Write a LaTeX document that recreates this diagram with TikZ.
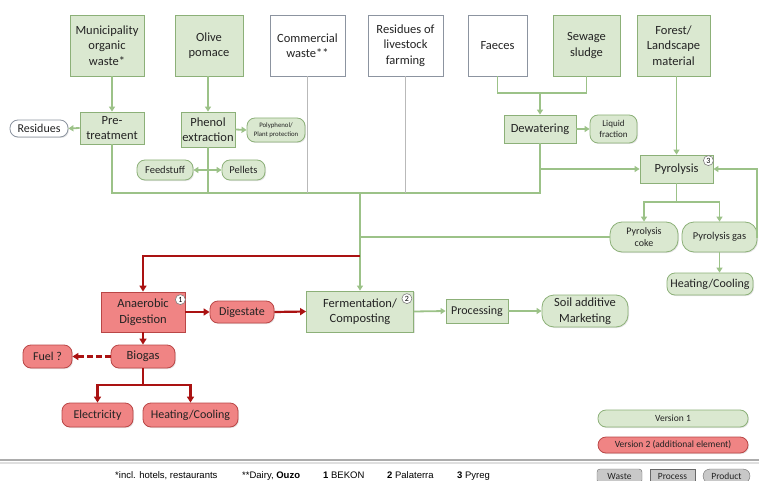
\documentclass[tikz,border=0pt]{standalone}
\usepackage{fontspec}
\setmainfont{Carlito}
\newfontfamily\arialfont{Liberation Sans}
\usepackage{tikz}
\usetikzlibrary{arrows.meta,calc,shadows}

\definecolor{grnfill}{RGB}{218,232,208}
\definecolor{grnedge}{RGB}{140,176,120}
\definecolor{grnline}{RGB}{156,194,136}
\definecolor{redfill}{RGB}{240,132,132}
\definecolor{rededge}{RGB}{185,70,70}
\definecolor{redline}{RGB}{170,18,18}
\definecolor{grayedge}{RGB}{140,148,160}
\definecolor{grayline}{RGB}{185,185,185}
\definecolor{keyfill}{RGB}{200,200,200}
\definecolor{keyedge}{RGB}{105,105,105}
\definecolor{textcol}{RGB}{35,35,35}

\newcommand{\fsz}[2]{\fontsize{#1}{#2}\selectfont}

\tikzset{
  boxbase/.style={draw, line width=0.8pt, align=center, inner sep=1pt, text=textcol,
    font=\fsz{12.5}{15.5},
    drop shadow={opacity=0.22, shadow xshift=1pt, shadow yshift=-1pt}},
  greenbox/.style={boxbase, rectangle, draw=grnedge, fill=grnfill},
  whitebox/.style={boxbase, rectangle, draw=grayedge, fill=white},
  redbox/.style={boxbase, rectangle, draw=rededge, fill=redfill},
  greenpill/.style={boxbase, rounded corners=8pt, draw=grnedge, fill=grnfill},
  whitepill/.style={boxbase, rounded corners=8pt, draw=grayedge, fill=white},
  redpill/.style={boxbase, rounded corners=8pt, draw=rededge, fill=redfill},
  gline/.style={draw=grnline, line width=1.8pt},
  garrow/.style={gline, -{Triangle[length=5pt,width=6pt]}},
  grayln/.style={draw=grayline, line width=1.6pt},
  rline/.style={draw=redline, line width=2.2pt},
  rarrow/.style={rline, -{Triangle[length=6pt,width=7pt]}},
  badge/.style={circle, draw=gray, line width=0.6pt, fill=white, inner sep=0.8pt,
    minimum size=10pt, font=\fsz{8}{8}},
  keybox/.style={draw=keyedge, fill=keyfill, minimum height=14, minimum width=45,
    inner sep=1pt, text=textcol, font=\fsz{9.5}{10}},
  foot/.style={font=\arialfont\fsz{9.5}{10}, anchor=base west, inner sep=0pt}
}

\begin{document}
\begin{tikzpicture}[x=1pt,y=-1pt]
  \clip (0,0) rectangle (759,481);

  % Sources
  \node[greenbox, minimum width=74, minimum height=61] (muni) at (107,45.5) {Municipality\\organic\\waste*};
  \node[greenbox, minimum width=68, minimum height=61] (olive) at (209,45.5) {Olive\\pomace};
  \node[whitebox, minimum width=75, minimum height=61] (comm) at (307.5,45.5) {Commercial\\waste**};
  \node[whitebox, minimum width=75, minimum height=61] (live) at (405.5,45.5) {Residues of\\livestock\\farming};
  \node[whitebox, minimum width=59, minimum height=61] (faeces) at (497.5,45.5) {Faeces};
  \node[greenbox, minimum width=67, minimum height=61] (sewage) at (586.5,45.5) {Sewage\\sludge};
  \node[greenbox, minimum width=73, minimum height=61] (forest) at (673.5,45.5) {Forest/\\Landscape\\material};

  % Pre-processing
  \node[greenbox, minimum width=64, minimum height=32] (pre) at (112,128) {Pre-\\treatment};
  \node[whitepill, minimum width=58, minimum height=17, font=\fsz{12}{13}] (resid) at (39,128.5) {Residues};
  \node[greenbox, minimum width=54, minimum height=35] (phenol) at (208,129.5) {Phenol\\extraction};
  \node[greenpill, minimum width=58, minimum height=24, font=\fsz{6.8}{8.5}] (poly) at (276,130) {Polyphenol/\\Plant protection};
  \node[greenpill, minimum width=56, minimum height=20, font=\fsz{10.5}{12}] (feed) at (165,170) {Feedstuff};
  \node[greenpill, minimum width=43, minimum height=20, font=\fsz{10.5}{12}] (pellets) at (243.5,170) {Pellets};
  \node[greenbox, minimum width=72, minimum height=28] (dewat) at (540,129) {Dewatering};
  \node[greenpill, minimum width=47, minimum height=28, font=\fsz{9}{10.5}] (liquid) at (613.5,129) {Liquid\\fraction};

  % Pyrolysis
  \node[greenbox, minimum width=73, minimum height=28] (pyro) at (676.5,169) {Pyrolysis};
  \node[badge] at ([shift={(-5,6)}]pyro.north east) {3};
  \node[greenpill, minimum width=68, minimum height=30, font=\fsz{10}{11.5}, rounded corners=12pt] (coke) at (644,237) {Pyrolysis\\coke};
  \node[greenpill, minimum width=75, minimum height=30, font=\fsz{10.5}{12}, rounded corners=12pt] (gas) at (719.5,237) {Pyrolysis gas};
  \node[greenpill, minimum width=86, minimum height=22, font=\fsz{12}{13}] (heatR) at (710,284) {Heating/Cooling};

  % Composting line
  \node[greenbox, minimum width=107, minimum height=41] (ferm) at (360,311.5) {Fermentation/\\Composting};
  \node[badge] at ([shift={(-7,8)}]ferm.north east) {2};
  \node[greenbox, minimum width=62, minimum height=24, font=\fsz{12}{13}] (proc) at (477,311) {Processing};
  \node[greenpill, minimum width=86, minimum height=32, rounded corners=12pt] (soil) at (585,311) {Soil additive\\Marketing};

  % Version 2: anaerobic digestion
  \node[redbox, minimum width=84, minimum height=40] (anaer) at (143,312) {Anaerobic\\Digestion};
  \node[badge] at ([shift={(-5,8)}]anaer.north east) {1};
  \node[redpill, minimum width=64, minimum height=22, font=\fsz{12}{13}] (digest) at (242,312) {Digestate};
  \node[redpill, minimum width=64, minimum height=23] (biogas) at (143,356.5) {Biogas};
  \node[redpill, minimum width=49, minimum height=23, font=\fsz{12}{13}] (fuel) at (47.5,356.5) {Fuel ?};
  \node[redpill, minimum width=71, minimum height=24, font=\fsz{12}{13}] (elec) at (97.5,415) {Electricity};
  \node[redpill, minimum width=95, minimum height=24, font=\fsz{12}{13}] (heatL) at (190.5,415) {Heating/Cooling};

  % Junctions
  \coordinate (jrow) at (0,193);
  \coordinate (hub) at (360,193);
  \coordinate (redj) at (360,256);
  \coordinate (fs) at (540,93);
  \coordinate (ps) at (676.5,202);
  \coordinate (gr) at (757,0);
  \coordinate (bs) at (143,385);

  % Green connectors
  \draw[garrow] (muni.south -| pre.north) -- (pre.north);
  \draw[garrow] (olive.south -| phenol.north) -- (phenol.north);
  \draw[garrow] (pre.west) -- (resid.east);
  \draw[garrow] (phenol.east) -- (poly.west);
  \draw[gline, {Triangle[length=5pt,width=6pt]}-{Triangle[length=5pt,width=6pt]}] (feed.east) -- (pellets.west);
  \draw[gline] (pre.south) |- (dewat.south |- jrow) -- (dewat.south);
  \draw[gline] (phenol.south) -- (phenol.south |- jrow);
  \draw[grayln] (comm.south) -- (comm.south |- jrow);
  \draw[grayln] (live.south) -- (live.south |- jrow);
  \draw[garrow] (hub) -- (ferm.north);
  \draw[gline] (coke.west) -- (coke.west -| hub);
  \draw[gline] (faeces.south) |- (sewage.south |- fs) -- (sewage.south);
  \draw[garrow] (fs) -- (dewat.north);
  \draw[garrow] (dewat.east) -- (liquid.west);
  \draw[garrow] (dewat.south |- pyro.west) -- (pyro.west);
  \draw[garrow] (forest.south -| pyro.north) -- (pyro.north);
  \draw[gline] (pyro.south) -- (ps);
  \draw[garrow] (ps) -| (coke.north);
  \draw[garrow] (ps) -| (gas.north);
  \draw[garrow] (gas.east) -| (gr |- pyro.east) -- (pyro.east);
  \draw[garrow] (gas.south) -- (gas.south |- heatR.north);
  \draw[garrow] (ferm.east) -- (proc.west);
  \draw[garrow] (proc.east) -- (soil.west);

  % Red connectors
  \draw[rarrow] (redj) -| (anaer.north);
  \draw[rarrow] (anaer.east) -- (digest.west);
  \draw[rarrow] (digest.east) -- (ferm.west);
  \draw[rarrow] (anaer.south) -- (biogas.north);
  \draw[rarrow, dash pattern=on 6pt off 3pt] (biogas.west) -- (fuel.east);
  \draw[rline] (biogas.south) -- (bs);
  \draw[rarrow] (bs) -| (elec.north);
  \draw[rarrow] (bs) -| (heatL.north);

  % Legend
  \node[greenpill, minimum width=150, minimum height=17, font=\fsz{9.5}{10}] (v1) at (673,418.5) {Version 1};
  \node[redpill, minimum width=150, minimum height=16, font=\fsz{9.5}{10}] (v2) at (673,445) {Version 2 (additional element)};
  \draw[gray!65, line width=2.5pt] (0,460) -- (759,460);
  \draw[gray!25, line width=2pt] (0,462.5) -- (759,462.5);
  \node[keybox, rounded corners=3pt] (kwaste) at (619.5,476) {Waste};
  \node[keybox] (kproc) at (672.5,476) {Process};
  \node[keybox, rounded corners=7pt, minimum width=47] (kprod) at (726.5,476) {Product};

  % Footnotes
  \node[foot] (n1) at (115,478) {*incl. hotels,\ restaurants};
  \node[foot] (n2) at (242,478) {**Dairy, \textbf{Ouzo}};
  \node[foot] (n3) at (323,478) {\textbf{1} BEKON};
  \node[foot] (n4) at (387,478) {\textbf{2} Palaterra};
  \node[foot] (n5) at (457,478) {\textbf{3} Pyreg};
\end{tikzpicture}
\end{document}
